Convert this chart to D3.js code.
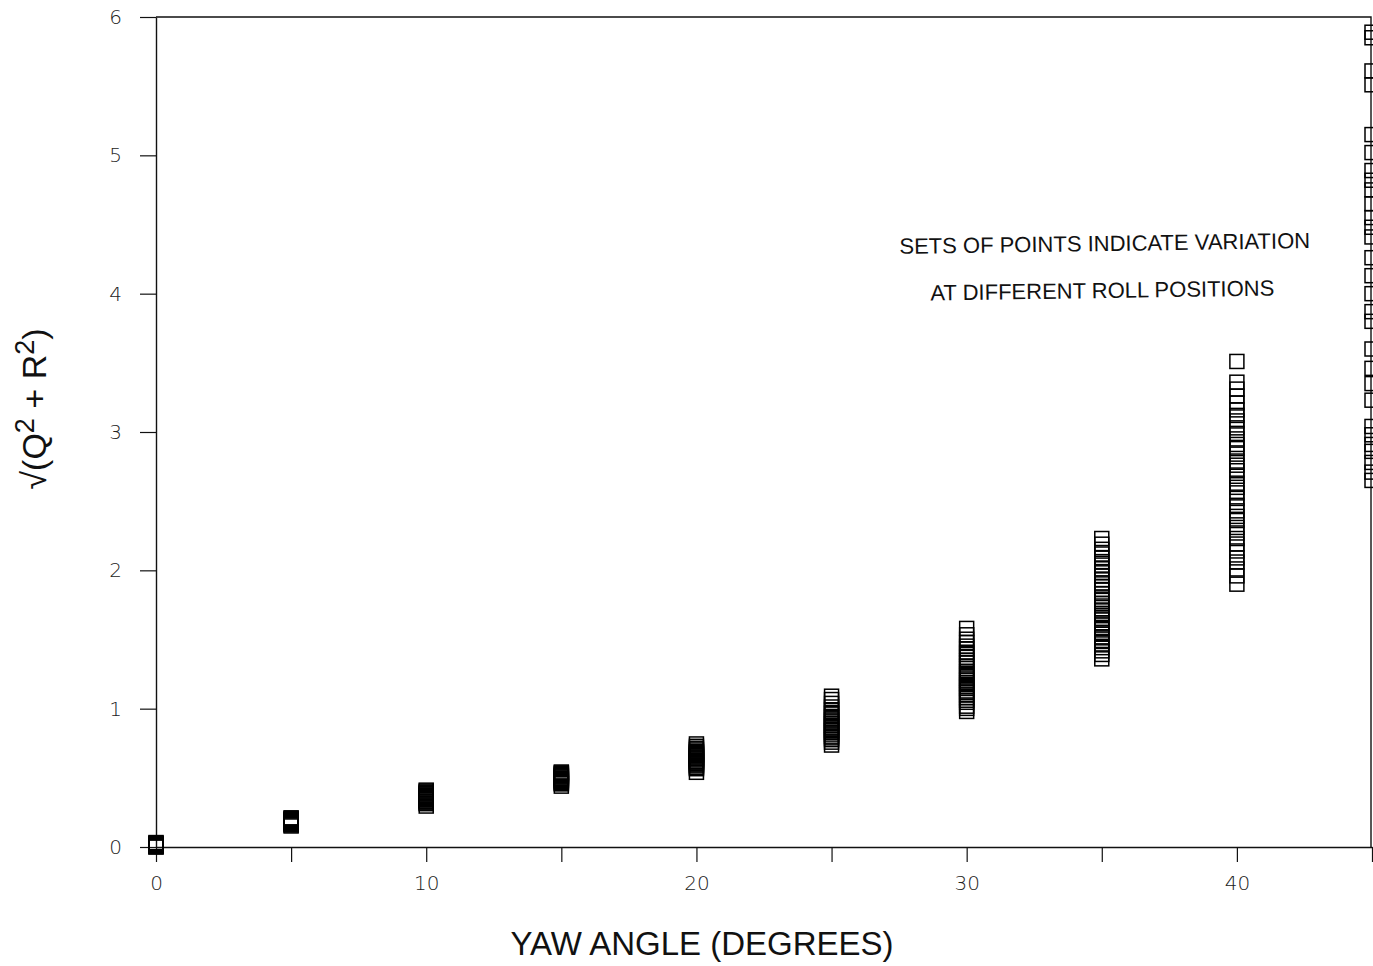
<!DOCTYPE html>
<html>
<head>
<meta charset="utf-8">
<script src="https://cdn.jsdelivr.net/npm/d3@7"></script>
<style>
  html, body { margin: 0; padding: 0; background: #fff; }
  svg { display: block; }
</style>
</head>
<body>
<svg id="chart" width="1373" height="966"></svg>
<script>
// Yaw angles (degrees) at which the model was measured
const yawAngles = [0, 5, 10, 15, 20, 25, 30, 35, 40, 45];

// sqrt(Q^2 + R^2) at each roll position, one list per yaw angle
const yaw0 = [0.0, 0.012, 0.004, 0.021, 0.028, 0.009, 0.017, 0.032, 0.002, 0.024, 0.015];
const yaw5 = [0.152, 0.159, 0.163, 0.171, 0.176, 0.183, 0.186, 0.191, 0.198, 0.201, 0.206, 0.211];
const yaw10 = [0.296, 0.313, 0.319, 0.326, 0.331, 0.339, 0.345, 0.352, 0.357, 0.364, 0.371, 0.377, 0.384, 0.389, 0.396, 0.404, 0.411];
const yaw15 = [0.44, 0.456, 0.461, 0.468, 0.475, 0.482, 0.487, 0.494, 0.499, 0.506, 0.512, 0.517, 0.524, 0.531, 0.536, 0.542];
const yaw20 = [0.54, 0.566, 0.574, 0.586, 0.594, 0.603, 0.613, 0.619, 0.629, 0.637, 0.644, 0.652, 0.661, 0.669, 0.677, 0.685, 0.691, 0.702, 0.714, 0.728, 0.745];
const yaw25 = [0.737, 0.758, 0.776, 0.789, 0.801, 0.816, 0.829, 0.843, 0.851, 0.866, 0.879, 0.892, 0.904, 0.919, 0.931, 0.944, 0.961, 0.973, 0.992, 1.012, 1.038, 1.066, 1.09];
const yaw30 = [0.98, 1.002, 1.018, 1.046, 1.061, 1.079, 1.098, 1.117, 1.128, 1.146, 1.159, 1.176, 1.188, 1.206, 1.221, 1.238, 1.256, 1.268, 1.291, 1.308, 1.332, 1.348, 1.371, 1.392, 1.408, 1.431, 1.452, 1.478, 1.502, 1.534, 1.58];
const yaw35 = [1.36, 1.392, 1.418, 1.441, 1.468, 1.486, 1.512, 1.538, 1.552, 1.579, 1.604, 1.621, 1.648, 1.672, 1.689, 1.713, 1.742, 1.761, 1.787, 1.808, 1.832, 1.861, 1.884, 1.902, 1.931, 1.958, 1.982, 2.011, 2.038, 2.063, 2.092, 2.118, 2.152, 2.189, 2.23];
const yaw40 = [1.9, 1.96, 2.01, 2.06, 2.09, 2.14, 2.19, 2.23, 2.27, 2.31, 2.36, 2.39, 2.43, 2.47, 2.52, 2.56, 2.6, 2.63, 2.68, 2.72, 2.76, 2.79, 2.84, 2.88, 2.91, 2.95, 2.99, 3.03, 3.08, 3.12, 3.16, 3.21, 3.26, 3.31, 3.36, 3.51];
const yaw45 = [2.65, 2.71, 2.78, 2.86, 2.91, 2.98, 3.04, 3.23, 3.35, 3.46, 3.6, 3.8, 3.87, 4.0, 4.13, 4.26, 4.41, 4.48, 4.55, 4.65, 4.75, 4.82, 4.89, 5.02, 5.15, 5.51, 5.61, 5.85, 5.89];

const seriesByYaw = [yaw0, yaw5, yaw10, yaw15, yaw20, yaw25, yaw30, yaw35, yaw40, yaw45];

const xTickValues = [0, 5, 10, 15, 20, 25, 30, 35, 40, 45];
const xTickLabels = ["0", "", "10", "", "20", "", "30", "", "40", ""];
const yTickValues = [0, 1, 2, 3, 4, 5, 6];

const points = [];
yawAngles.forEach((a, i) => seriesByYaw[i].forEach(v => points.push({ yaw: a, v })));

const svg = d3.select("#chart");
const margin = { left: 156, top: 17, right: 1372, bottom: 847 };

const x = d3.scaleLinear().domain([0, 45]).range([margin.left, margin.right]);
const y = d3.scaleLinear().domain([0, 6]).range([margin.bottom, margin.top]);

const tickFont = "'DejaVu Sans', sans-serif";

// x axis with ticks every 5 degrees, labels every 10
const xAxis = d3.axisBottom(x)
  .tickValues(xTickValues)
  .tickFormat((d, i) => xTickLabels[i])
  .tickSize(15)
  .tickPadding(14)
  .tickSizeOuter(0);
const gx = svg.append("g").attr("transform", `translate(0,${y(0)})`).call(xAxis);
gx.select(".domain").attr("stroke", "#111").attr("stroke-width", 1.4);
gx.selectAll(".tick line").attr("stroke", "#111").attr("stroke-width", 1.2);
gx.selectAll(".tick text")
  .attr("font-family", tickFont).attr("font-weight", 200)
  .attr("font-size", 20).attr("fill", "#222");

// y axis
const yAxis = d3.axisLeft(y)
  .tickValues(yTickValues)
  .tickFormat(d3.format("d"))
  .tickSize(16)
  .tickPadding(18)
  .tickSizeOuter(0);
const gy = svg.append("g").attr("transform", `translate(${x(0)},0)`).call(yAxis);
gy.select(".domain").attr("stroke", "#111").attr("stroke-width", 1.4);
gy.selectAll(".tick line").attr("stroke", "#111").attr("stroke-width", 1.2);
gy.selectAll(".tick text")
  .attr("font-family", tickFont).attr("font-weight", 200)
  .attr("font-size", 20).attr("fill", "#222");

// top and right frame
svg.append("path")
  .attr("d", `M${x(0)},${y(6)}H${x(45) - 1}V${y(0)}`)
  .attr("fill", "none").attr("stroke", "#111").attr("stroke-width", 1.4);

// data markers: open squares (outlines only, so dense sets read as solid)
const s = 14;
svg.append("g").selectAll("rect")
  .data(points)
  .join("rect")
  .attr("x", d => x(d.yaw) - s / 2)
  .attr("y", d => y(d.v) - s / 2)
  .attr("width", s)
  .attr("height", s)
  .attr("fill", "none")
  .attr("stroke", "#000")
  .attr("stroke-width", 1.5);

// axis titles
svg.append("text")
  .attr("x", 702).attr("y", 955)
  .attr("text-anchor", "middle")
  .attr("font-family", "'Liberation Sans', Arial, sans-serif")
  .attr("font-size", 33).attr("fill", "#111")
  .text("YAW ANGLE (DEGREES)");

const yTitle = svg.append("text")
  .attr("transform", "translate(46,409) rotate(-90)")
  .attr("text-anchor", "middle")
  .attr("font-family", "'Liberation Sans', Arial, sans-serif")
  .attr("font-size", 34).attr("fill", "#111");
yTitle.append("tspan").text("\u221A(Q");
yTitle.append("tspan").attr("dy", -12).attr("font-size", 27).text("2");
yTitle.append("tspan").attr("dy", 12).text(" + R");
yTitle.append("tspan").attr("dy", -12).attr("font-size", 27).text("2");
yTitle.append("tspan").attr("dy", 12).text(")");

// annotation
const note = svg.append("g").attr("transform", "rotate(-0.8, 1105, 265)")
  .attr("font-family", "'Liberation Sans', Arial, sans-serif")
  .attr("font-size", 22).attr("fill", "#111").attr("text-anchor", "middle");
note.append("text").attr("x", 1105).attr("y", 251).text("SETS OF POINTS INDICATE VARIATION");
note.append("text").attr("x", 1102).attr("y", 298).text("AT DIFFERENT ROLL POSITIONS");
</script>
</body>
</html>
